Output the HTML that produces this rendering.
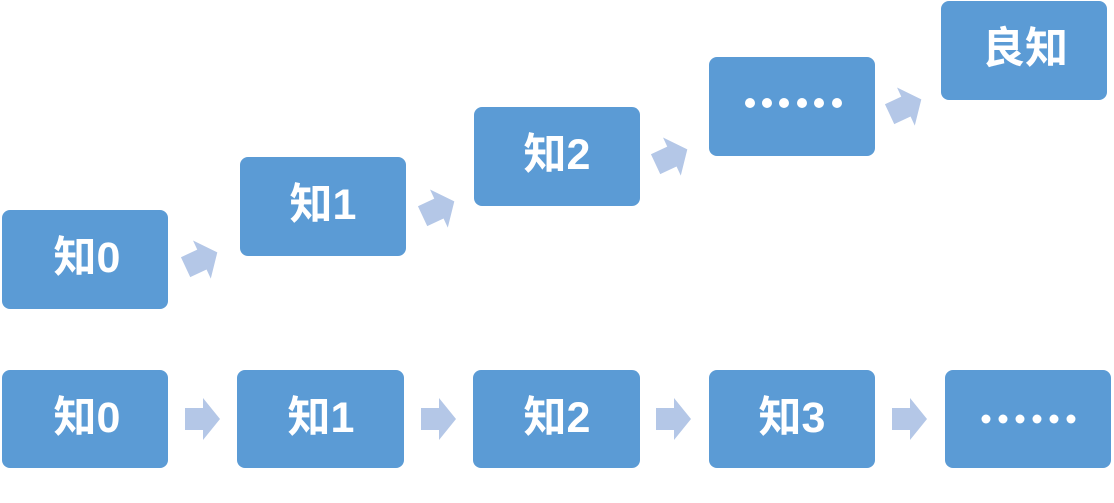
<!DOCTYPE html>
<html><head><meta charset="utf-8"><style>
html,body{margin:0;padding:0;background:#fff;}
svg{display:block}
text{font-family:"Liberation Sans","Noto Sans CJK SC",sans-serif;font-weight:bold;fill:#fff;font-size:43px;text-anchor:middle;dominant-baseline:central}
</style></head><body>
<svg width="1114" height="503" viewBox="0 0 1114 503">
<defs>
<path id="ar" d="M-17,-11 L1,-11 L1,-21 L18,0 L1,21 L1,11 L-17,11 Z" fill="#b4c7e7"/>
</defs>
<g fill="#5b9bd5">
<rect x="2" y="210" width="166" height="99" rx="8"/>
<rect x="240" y="157" width="166" height="99" rx="8"/>
<rect x="474" y="107" width="166" height="99" rx="8"/>
<rect x="709" y="57" width="166" height="99" rx="8"/>
<rect x="941" y="1" width="166" height="99" rx="8"/>
<rect x="2" y="370" width="166" height="98" rx="8"/>
<rect x="237" y="370" width="167" height="98" rx="8"/>
<rect x="473" y="370" width="167" height="98" rx="8"/>
<rect x="709" y="370" width="166" height="98" rx="8"/>
<rect x="945" y="370" width="166" height="98" rx="8"/>
</g>
<use href="#ar" transform="translate(201,260) rotate(-25)"/>
<use href="#ar" transform="translate(438,209) rotate(-25)"/>
<use href="#ar" transform="translate(671,157) rotate(-25)"/>
<use href="#ar" transform="translate(905,107) rotate(-25)"/>
<use href="#ar" transform="translate(202,419)"/>
<use href="#ar" transform="translate(438,419)"/>
<use href="#ar" transform="translate(673,419)"/>
<use href="#ar" transform="translate(909,419)"/>
<text x="87" y="258">知0</text>
<text x="323" y="205">知1</text>
<text x="557" y="155">知2</text>
<text x="1025" y="49">良知</text>
<text x="87" y="418">知0</text>
<text x="321" y="418">知1</text>
<text x="557" y="418">知2</text>
<text x="792" y="418">知3</text>
<g fill="#fff">
<circle cx="750" cy="103" r="5"/><circle cx="767" cy="103" r="5"/><circle cx="784" cy="103" r="5"/>
<circle cx="802" cy="103" r="5"/><circle cx="819" cy="103" r="5"/><circle cx="837" cy="103" r="5"/>
<circle cx="986" cy="419" r="4.5"/><circle cx="1003" cy="419" r="4.5"/><circle cx="1020" cy="419" r="4.5"/>
<circle cx="1037" cy="419" r="4.5"/><circle cx="1054" cy="419" r="4.5"/><circle cx="1071" cy="419" r="4.5"/>
</g>
</svg>
</body></html>
